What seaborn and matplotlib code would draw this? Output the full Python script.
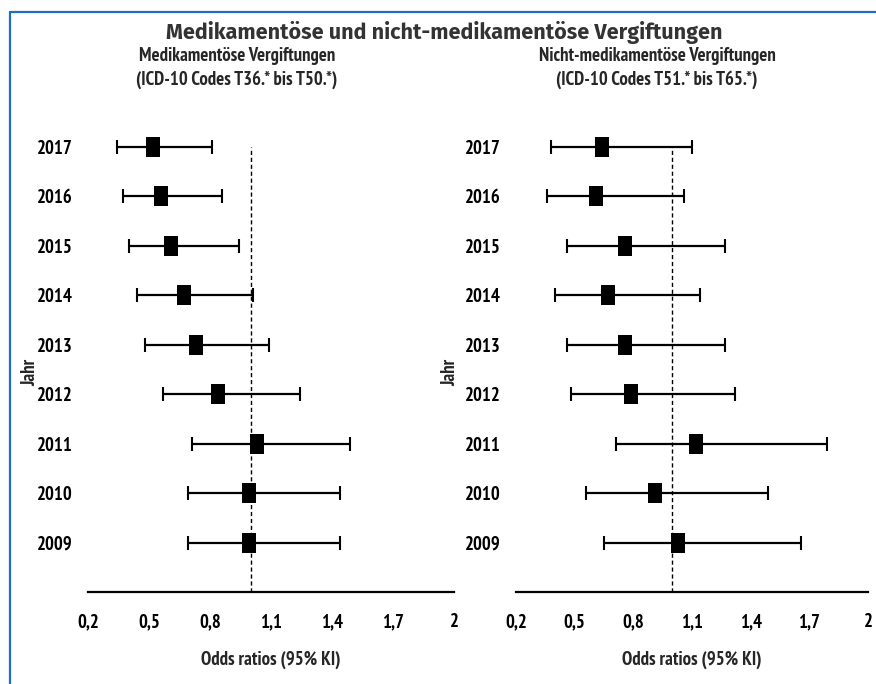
import numpy as np
import pandas as pd
import matplotlib
matplotlib.use("Agg")
import matplotlib.pyplot as plt
from matplotlib.lines import Line2D
from matplotlib import font_manager
import seaborn as sns

years = [2017, 2016, 2015, 2014, 2013, 2012, 2011, 2010, 2009]

med_or = [0.52, 0.56, 0.61, 0.67, 0.73, 0.84, 1.03, 0.99, 0.99]
med_lo = [0.34, 0.37, 0.40, 0.44, 0.48, 0.57, 0.71, 0.69, 0.69]
med_hi = [0.81, 0.86, 0.94, 1.01, 1.09, 1.24, 1.49, 1.44, 1.44]

non_or = [0.64, 0.61, 0.76, 0.67, 0.76, 0.79, 1.12, 0.91, 1.03]
non_lo = [0.38, 0.36, 0.46, 0.40, 0.46, 0.48, 0.71, 0.56, 0.65]
non_hi = [1.10, 1.06, 1.27, 1.14, 1.27, 1.32, 1.79, 1.49, 1.66]

x_ticks = [0.2, 0.5, 0.8, 1.1, 1.4, 1.7, 2.0]
x_labels = ["0,2", "0,5", "0,8", "1,1", "1,4", "1,7", "2"]


# pick a condensed family that really has a bold face
def bold_weight(f):
    w = f.weight
    if isinstance(w, str):
        w = font_manager.weight_dict.get(w, 400)
    return w


has_bold = {f.name for f in font_manager.fontManager.ttflist
            if bold_weight(f) >= 700}
cands = ["PT Sans Narrow", "Roboto Condensed", "Archivo Narrow",
         "Fira Sans Condensed", "IBM Plex Sans Condensed", "Liberation Sans"]
cond = next((c for c in cands if c in has_bold), "DejaVu Sans")

sns.set_style("white")
plt.rcParams["font.family"] = [cond, "DejaVu Sans"]

fig = plt.figure(figsize=(8.76, 6.84), dpi=100)

# tall black box marker
box = [(-0.33, -0.5), (0.33, -0.5), (0.33, 0.5), (-0.33, 0.5), (-0.33, -0.5)]


def forest(ax, odds, lo, hi):
    df = pd.DataFrame({"year": years, "or": odds, "lo": lo, "hi": hi})
    ax.errorbar(df["or"], df["year"],
                xerr=[df["or"] - df["lo"], df["hi"] - df["or"]],
                fmt="none", ecolor="black", elinewidth=1.6,
                capsize=4.7, capthick=1.5, zorder=2)
    sns.scatterplot(data=df, x="or", y="year", marker=box, s=215,
                    color="black", edgecolor="black", linewidth=0,
                    zorder=3, ax=ax)
    ax.vlines(1.0, 2008, 2017, colors="black", linestyles=(0, (3, 2)),
              linewidth=1.0, zorder=1)
    ax.set_xlim(0.2, 2.0)
    ax.set_ylim(2008, 2017.5)
    ax.set_xticks(x_ticks)
    ax.set_xticklabels(x_labels, fontsize=13.5, fontweight="bold")
    ax.set_yticks(years)
    ax.set_yticklabels([str(y) for y in years], fontsize=13.5,
                       fontweight="bold")
    for s in ["top", "right", "left"]:
        ax.spines[s].set_visible(False)
    ax.spines["bottom"].set_linewidth(1.6)
    ax.spines["bottom"].set_color("black")
    ax.tick_params(axis="x", direction="out", length=4, width=1.5,
                   pad=11, colors="black")
    ax.tick_params(axis="y", direction="in", length=5, width=1.6,
                   pad=11, colors="black")
    ax.set_xlabel("Odds ratios (95% KI)", fontsize=13.5, fontweight="bold",
                  labelpad=14)
    ax.set_ylabel("")
    ax.patch.set_alpha(0)


ax1 = fig.add_axes([0.1005, 0.1345, 0.4178, 0.6871])
ax2 = fig.add_axes([0.5890, 0.1345, 0.4018, 0.6871])
forest(ax1, med_or, med_lo, med_hi)
forest(ax2, non_or, non_lo, non_hi)

for xj in [30, 450]:
    fig.text(xj / 876, 1 - 372 / 684, "Jahr", rotation=90, ha="center",
             va="center", fontsize=13.5, fontweight="bold")

fig.text(237 / 876, 1 - 56 / 684, "Medikamentöse Vergiftungen",
         ha="center", va="center", fontsize=13.5, fontweight="bold")
fig.text(237 / 876, 1 - 80 / 684, "(ICD-10 Codes T36.* bis T50.*)",
         ha="center", va="center", fontsize=13.5, fontweight="bold")
fig.text(657 / 876, 1 - 56 / 684, "Nicht-medikamentöse Vergiftungen",
         ha="center", va="center", fontsize=13.5, fontweight="bold")
fig.text(657 / 876, 1 - 80 / 684, "(ICD-10 Codes T51.* bis T65.*)",
         ha="center", va="center", fontsize=13.5, fontweight="bold")

fig.text(444 / 876, 1 - 32 / 684,
         "Medikamentöse und nicht-medikamentöse Vergiftungen",
         ha="center", va="center", fontsize=15.5, fontweight="bold",
         color="#333333", family=["Fira Sans", "DejaVu Sans"])

# blue frame on top and left
blue = "#1f6fc0"
fig.add_artist(Line2D([10 / 876, 1], [1 - 12 / 684, 1 - 12 / 684],
                      transform=fig.transFigure, color=blue, lw=1.6))
fig.add_artist(Line2D([10 / 876, 10 / 876], [0, 1 - 12 / 684],
                      transform=fig.transFigure, color=blue, lw=1.6))

fig.savefig("out.png", dpi=100)
